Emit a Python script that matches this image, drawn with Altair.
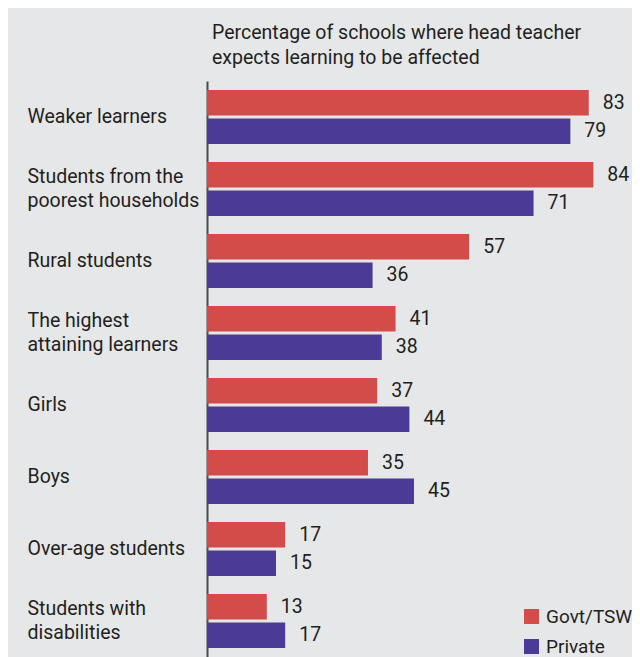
import altair as alt
import pandas as pd

categories = [
    "Weaker learners",
    "Students from the|poorest households",
    "Rural students",
    "The highest|attaining learners",
    "Girls",
    "Boys",
    "Over-age students",
    "Students with|disabilities",
]
series = ["Govt/TSW", "Private"]
govt = [83, 84, 57, 41, 37, 35, 17, 13]
private = [79, 71, 36, 38, 44, 45, 15, 17]
colors = ["#d44c4a", "#4b3b96"]
title_lines = [
    "Percentage of schools where head teacher",
    "expects learning to be affected",
]

rows = []
for c, g, p in zip(categories, govt, private):
    rows.append({"category": c, "series": series[0], "value": g})
    rows.append({"category": c, "series": series[1], "value": p})
df = pd.DataFrame(rows)

FONT = "Roboto"
TXT = "#231f20"
FS = 19.5

y = alt.Y(
    "category:N",
    sort=categories,
    scale=alt.Scale(paddingInner=0.25, paddingOuter=0.125),
    axis=alt.Axis(
        title=None,
        labelExpr="split(datum.label, '|')",
        labelAlign="left",
        labelBaseline="middle",
        labelPadding=180,
        labelOffset={"expr": "indexof(datum.value, '|') >= 0 ? -12 : 0"},
        ticks=False,
        domainColor="#4d4d4d",
        domainWidth=2,
        labelFontSize=FS,
        labelFont=FONT,
        labelColor=TXT,
        labelLimit=0,
        labelLineHeight=24,
    ),
)
yoff = alt.YOffset("series:N", sort=series, scale=alt.Scale(paddingInner=0.1))
x = alt.X("value:Q", scale=alt.Scale(domain=[0, 92.4]), axis=None)

bars = alt.Chart(df).mark_bar().encode(
    x=x,
    y=y,
    yOffset=yoff,
    color=alt.Color(
        "series:N",
        sort=series,
        scale=alt.Scale(domain=series, range=colors),
        legend=alt.Legend(
            orient="none",
            legendX=315,
            legendY=526,
            title=None,
            symbolType="square",
            symbolSize=225,
            symbolStrokeWidth=0,
            labelFontSize=19,
            labelFont=FONT,
            labelColor=TXT,
            rowPadding=10,
            labelOffset=5,
            padding=0,
        ),
    ),
)

labels = alt.Chart(df).mark_text(
    align="left", baseline="middle", dx=14, fontSize=FS, font=FONT, color=TXT
).encode(x=x, y=y, yOffset=yoff, text="value:Q")

chart = (
    alt.layer(bars, labels)
    .properties(
        width=425,
        height=576,
        background="#e6e7e9",
        autosize=alt.AutoSizeParams(type="none"),
        padding={"left": 199, "top": 73, "right": 0, "bottom": 0},
        title=alt.Title(
            text=title_lines,
            anchor="start",
            frame="group",
            dx=5,
            fontSize=FS,
            font=FONT,
            fontWeight="normal",
            color=TXT,
            lineHeight=25,
            offset=13,
        ),
    )
    .configure_view(stroke=None)
)

chart.save("out.html", embed_options={"renderer": "svg", "actions": False})
